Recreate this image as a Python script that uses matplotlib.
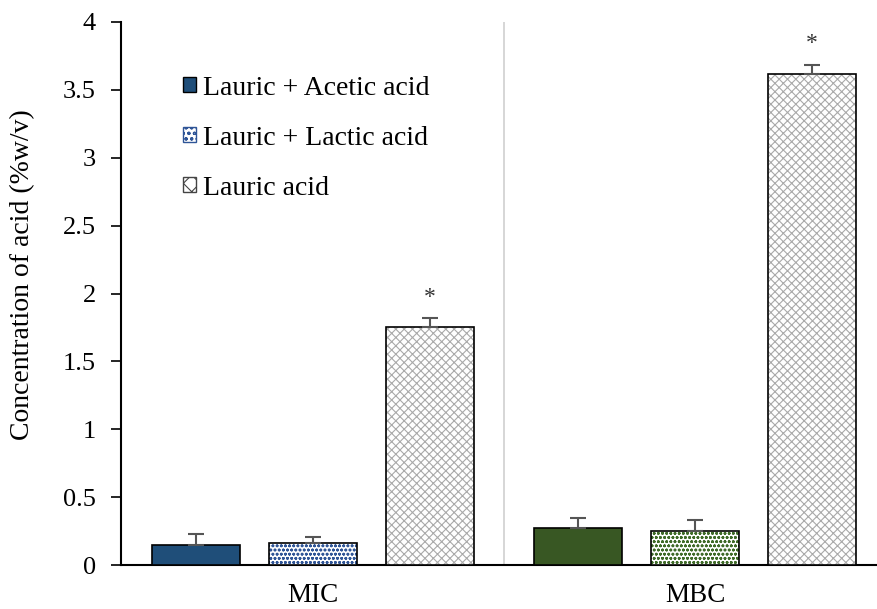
import matplotlib
matplotlib.use("Agg")
import matplotlib.pyplot as plt
import numpy as np
from matplotlib.patches import Patch

plt.rcParams['font.family'] = ['Liberation Serif', 'DejaVu Serif']
plt.rcParams['hatch.linewidth'] = 0.8

groups = ["MIC", "MBC"]
series = ["Lauric + Acetic acid", "Lauric + Lactic acid", "Lauric acid"]
acetic = [0.15, 0.27]
acetic_err = [0.08, 0.08]
lactic = [0.16, 0.25]
lactic_err = [0.05, 0.08]
lauric = [1.75, 3.62]
lauric_err = [0.07, 0.06]
star_y = [1.97, 3.84]

fig = plt.figure(figsize=(8.77, 6.09), dpi=100)
ax = fig.add_axes([0.138, 0.0722, 0.862, 0.8917])

x = np.arange(len(groups))
off = 0.306
w = 0.23
acetic_colors = ["#1f4e79", "#385723"]
lactic_colors = ["#2f5597", "#3f6b28"]

for i in range(len(groups)):
    # acetic: solid
    ax.bar(x[i] - off, acetic[i], w, color=acetic_colors[i], edgecolor="black", linewidth=1.2, zorder=3)
    ax.errorbar(x[i] - off, acetic[i], yerr=[[0], [acetic_err[i]]], fmt="none", ecolor="#555555",
                elinewidth=1.5, capsize=6, capthick=1.5, zorder=4)
    # lactic: dotted hatch
    ax.bar(x[i], lactic[i], w, color="white", edgecolor=lactic_colors[i], hatch="oooo", linewidth=0, zorder=3)
    ax.bar(x[i], lactic[i], w, color="none", edgecolor="black", linewidth=1.2, zorder=3)
    ax.errorbar(x[i], lactic[i], yerr=[[0], [lactic_err[i]]], fmt="none", ecolor="#555555",
                elinewidth=1.5, capsize=6, capthick=1.5, zorder=4)
    # lauric: light gray pattern
    ax.bar(x[i] + off, lauric[i], w, color="white", edgecolor="#aaaaaa", hatch="xxxx", linewidth=0, zorder=3)
    ax.bar(x[i] + off, lauric[i], w, color="none", edgecolor="black", linewidth=1.2, zorder=3)
    ax.errorbar(x[i] + off, lauric[i], yerr=[[0], [lauric_err[i]]], fmt="none", ecolor="#555555",
                elinewidth=1.5, capsize=6, capthick=1.5, zorder=4)
    ax.text(x[i] + off, star_y[i], "*", ha="center", va="center", fontsize=17, color="#333333")

ax.axvline(0.5, color="#d0d0d0", linewidth=1.2, zorder=1)

ax.set_xlim(-0.503, 1.476)
ax.set_ylim(0, 4)
ax.set_yticks(np.arange(0, 4.01, 0.5))
ax.set_yticklabels(["0", "0.5", "1", "1.5", "2", "2.5", "3", "3.5", "4"])
ax.set_xticks(x)
ax.set_xticklabels(groups)
ax.tick_params(axis="x", length=0, labelsize=19.5, pad=13)
ax.tick_params(axis="y", direction="out", length=7, width=1.2, labelsize=19, pad=11)
for s in ["top", "right"]:
    ax.spines[s].set_visible(False)
ax.spines["left"].set_linewidth(1.5)
ax.spines["bottom"].set_linewidth(1.5)
fig.text(23 / 877, 1 - 275 / 609, "Concentration of acid (%w/v)", rotation=90,
         ha="center", va="center", fontsize=20)

handles = [
    Patch(facecolor="#1f4e79", edgecolor="black", linewidth=1.0),
    Patch(facecolor="white", edgecolor="#2f5597", hatch="ooo", linewidth=1.0),
    Patch(facecolor="white", edgecolor="#444444", hatch="xx", linewidth=1.0),
]
leg = ax.legend(handles, series, loc="upper left", bbox_to_anchor=(0.049, 0.947), frameon=False,
                fontsize=20, handlelength=0.45, handleheight=0.45, handletextpad=0.25, labelspacing=0.9)

fig.savefig("out.png", dpi=100)
